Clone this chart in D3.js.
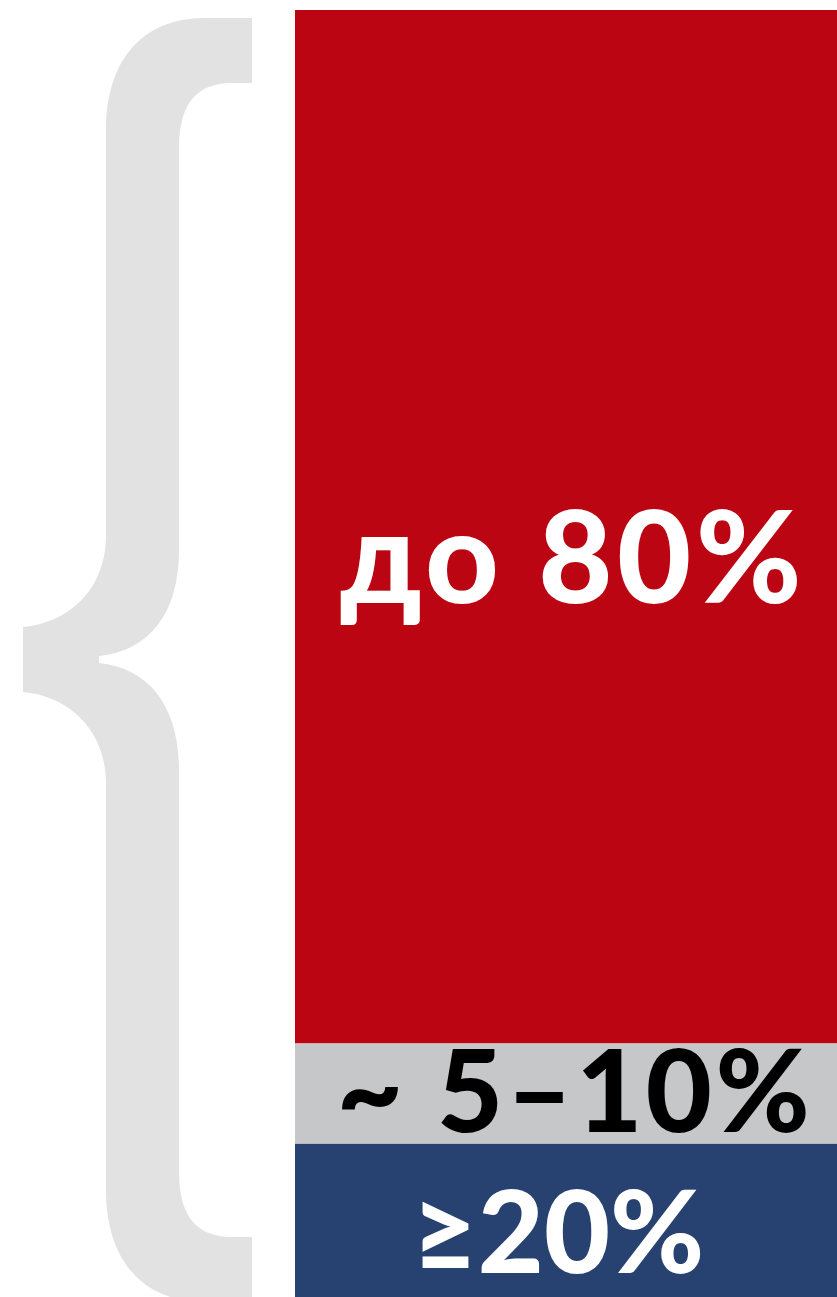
<!DOCTYPE html>
<html>
<head>
<meta charset="utf-8">
<script src="https://cdn.jsdelivr.net/npm/d3@7"></script>
<style>
html,body{margin:0;padding:0;background:#fff;}
svg{display:block;}
</style>
</head>
<body>
<svg id="chart" width="837" height="1297"></svg>
<script>
// ---- data ----
const categories = ["top", "middle", "bottom"];
const shares = [80.3, 7.8, 11.9];            // bar segment heights (share of bar)
const labels = ["до 80%", "~ 5–10%", "≥20%"];

// ---- styles / layout (not data) ----
const colors = ["#bb0512", "#c6c7c9", "#274271"];
const textColors = ["#ffffff", "#000000", "#ffffff"];
const fontSizes = [128, 114, 114];
const letterSpacing = [4.5, 3.5, 0];
const textCenterDx = [7, 9, -8];
const baselineDy = [76, 38.5, 52.5];

(function () {
  const svg = d3.select("#chart");

  const x = d3.scaleLinear().domain([0, 1]).range([295, 837]);
  const y = d3.scaleLinear().domain([0, d3.sum(shares)]).range([10, 1297]);

  const stacked = [];
  let acc = 0;
  shares.forEach((v, i) => { stacked.push({cat: categories[i], v, y0: acc, y1: acc + v, label: labels[i], i}); acc += v; });

  // ---- brace (decoration spanning the bar) ----
  const yTop = y.range()[0] + 8, yBot = yTop + 1284;
  const off = (yTop + yBot) / 2 - 660;
  const p = d3.path();
  p.moveTo(252, yTop);
  p.lineTo(205, yTop);
  p.bezierCurveTo(140, yTop, 106, yTop + 45, 106, yTop + 112);
  p.lineTo(106, 535 + off);
  p.bezierCurveTo(106, 590 + off, 68, 623 + off, 23, 627 + off);
  p.lineTo(23, 692 + off);
  p.bezierCurveTo(68, 696 + off, 106, 729 + off, 106, 784 + off);
  p.lineTo(106, yBot - 112);
  p.bezierCurveTo(106, yBot - 45, 140, yBot, 205, yBot);
  p.lineTo(252, yBot);
  p.lineTo(252, yBot - 65);
  p.lineTo(232, yBot - 65);
  p.bezierCurveTo(195, yBot - 65, 179, yBot - 88, 179, yBot - 130);
  p.lineTo(179, 770 + off);
  p.bezierCurveTo(179, 705 + off, 148, 668 + off, 99, 663 + off);
  p.lineTo(99, 656 + off);
  p.bezierCurveTo(148, 651 + off, 179, 615 + off, 179, 550 + off);
  p.lineTo(179, yTop + 130);
  p.bezierCurveTo(179, yTop + 88, 195, yTop + 65, 232, yTop + 65);
  p.lineTo(252, yTop + 65);
  p.closePath();
  svg.append("path").attr("d", p.toString()).attr("fill", "#e2e2e2");

  // ---- bars ----
  svg.selectAll("rect.seg").data(stacked).enter().append("rect")
    .attr("class", "seg")
    .attr("x", x(0))
    .attr("width", x(1) - x(0))
    .attr("y", d => y(d.y0))
    .attr("height", d => y(d.y1) - y(d.y0))
    .attr("fill", d => colors[d.i]);

  // ---- labels ----
  svg.selectAll("text.lab").data(stacked).enter().append("text")
    .attr("class", "lab")
    .attr("x", d => (x(0) + x(1)) / 2 + textCenterDx[d.i])
    .attr("y", d => (y(d.y0) + y(d.y1)) / 2 + baselineDy[d.i])
    .attr("text-anchor", "middle")
    .attr("font-family", "Lato, sans-serif")
    .attr("font-weight", 900)
    .attr("font-size", d => fontSizes[d.i])
    .attr("letter-spacing", d => letterSpacing[d.i])
    .attr("fill", d => textColors[d.i])
    .text(d => d.label);
})();
</script>
</body>
</html>
